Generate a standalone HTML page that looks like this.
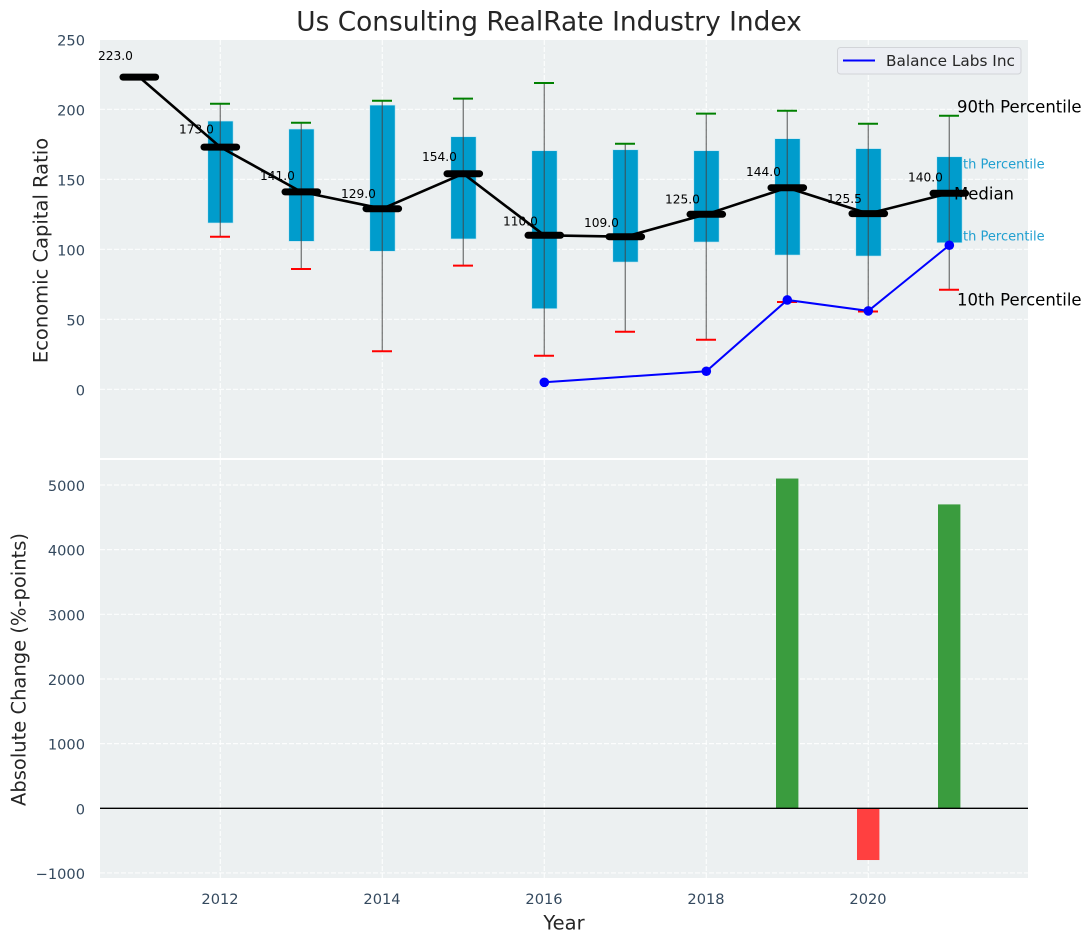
<!DOCTYPE html>
<html lang="en">
<head>
<meta charset="utf-8">
<title>Us Consulting RealRate Industry Index</title>
<style>
html,body{margin:0;padding:0;background:#fff;width:1092px;height:942px;overflow:hidden}
svg{display:block}
text{font-family:"DejaVu Sans","Liberation Sans",sans-serif}
</style>
</head>
<body>
<svg id="chart" xmlns="http://www.w3.org/2000/svg" width="1092" height="942" viewBox="0 0 1092 942"></svg>
<script>
const years = [2011,2012,2013,2014,2015,2016,2017,2018,2019,2020,2021];
const medians = [223,173,141,129,154,110,109,125,144,125.5,140];
const medianLabels = ['223.0','173.0','141.0','129.0','154.0','110.0','109.0','125.0','144.0','125.5','140.0'];
const p90 = [null,204,190.4,206.1,207.6,218.8,175.4,196.9,199,189.7,195.4];
const p75 = [null,191.6,185.9,203,180.4,170.4,171.1,170.4,179,171.9,166.1];
const p25 = [null,118.8,105.7,98.6,107.4,57.6,90.9,105.2,95.9,95.2,104.7];
const p10 = [null,109,85.9,27.2,88.3,24,41.1,35.4,62.4,55.6,71.1];
const companyYears = [2016,2018,2019,2020,2021];
const companyValues = [5,12.9,63.8,56,102.9];
const changeYears = [2019,2020,2021];
const changeValues = [5100,-800,4700];
const xTicks = [2012,2014,2016,2018,2020];
const topTicks = [0,50,100,150,200,250];
const bottomTicks = [-1000,0,1000,2000,3000,4000,5000];

const svg = document.getElementById('chart');
const NS = 'http://www.w3.org/2000/svg';
const xS = y => 220.3 + (y - 2012) * 81;
const yTop = v => 389.3 - v * 1.4;
const yBot = v => 808.3 - v * 0.06466;
const P = {l:100, r:1028, tt:40, tb:458, bt:460, bb:878};

function mk(tag, attrs, txt){
  const e = document.createElementNS(NS, tag);
  for (const k in attrs) e.setAttribute(k, attrs[k]);
  if (txt !== undefined) e.textContent = txt;
  svg.appendChild(e);
  return e;
}
let el;

el = mk('rect',{x:P.l,y:P.tt,width:P.r-P.l,height:P.tb-P.tt,fill:'#ecf0f1'});


el = mk('rect',{x:P.l,y:P.bt,width:P.r-P.l,height:P.bb-P.bt,fill:'#ecf0f1'});



const gridStyle = {stroke:'#fff','stroke-width':1.2,'stroke-dasharray':'5 2','stroke-opacity':0.85};
xTicks.forEach(t => {
  el = mk('line',{x1:xS(t),x2:xS(t),y1:P.tt,y2:P.tb,...gridStyle});
  
  
  el = mk('line',{x1:xS(t),x2:xS(t),y1:P.bt,y2:P.bb,...gridStyle});
  
  
  el = mk('text',{x:xS(t)-0.3,y:899.5,'text-anchor':'middle','dominant-baseline':'central','font-size':14.6,fill:'#34495e'},String(t));
  
  
});
topTicks.forEach(t => {
  el = mk('line',{x1:P.l,x2:P.r,y1:yTop(t),y2:yTop(t),...gridStyle});
  
  
  el = mk('text',{x:85,y:yTop(t)+1.5,'text-anchor':'end','dominant-baseline':'central','font-size':14.6,fill:'#34495e'},String(t));
  
  
});
bottomTicks.forEach(t => {
  el = mk('line',{x1:P.l,x2:P.r,y1:yBot(t),y2:yBot(t),...gridStyle});
  
  
  el = mk('text',{x:85,y:yBot(t)+1.5,'text-anchor':'end','dominant-baseline':'central','font-size':14.6,fill:'#34495e'},t < 0 ? '\u2212' + Math.abs(t) : String(t));
  
  
});

/* percentile annotations sit below the boxes */
const last = years.length - 1;
el = mk('text',{x:946.5,y:yTop(p75[last])+8.3,'dominant-baseline':'central','font-size':13,fill:'#1f9fd0'},'75th Percentile');


el = mk('text',{x:946.5,y:yTop(p25[last])-5.7,'dominant-baseline':'central','font-size':13,fill:'#1f9fd0'},'25th Percentile');



/* boxes */
years.forEach((y,i) => {
  if (p75[i] === null) return;
  el = mk('rect',{x:xS(y)-12.5,width:25.3,y:yTop(p75[i]),height:yTop(p25[i])-yTop(p75[i]),fill:'#009ccc',stroke:'#bfe6f2','stroke-width':0.6});
  
  
});
/* whiskers */
years.forEach((y,i) => {
  if (p90[i] === null) return;
  el = mk('line',{x1:xS(y),x2:xS(y),y1:yTop(p90[i]),y2:yTop(p10[i]),stroke:'#444','stroke-opacity':0.65,'stroke-width':1.4});
  
  
  el = mk('line',{x1:xS(y)-10.3,x2:xS(y)+9.7,y1:yTop(p90[i]),y2:yTop(p90[i]),stroke:'#008000','stroke-width':2});
  
  
  el = mk('line',{x1:xS(y)-10.3,x2:xS(y)+9.7,y1:yTop(p10[i]),y2:yTop(p10[i]),stroke:'#ff0000','stroke-width':2});
  
  
});

/* median line */
el = mk('polyline',{points:years.map((y,i)=>xS(y)+','+yTop(medians[i])).join(' '),fill:'none',stroke:'#000','stroke-width':2.6,'stroke-linejoin':'round'});



/* company line */
el = mk('polyline',{points:companyYears.map((y,i)=>xS(y)+','+yTop(companyValues[i])).join(' '),fill:'none',stroke:'#0000ff','stroke-width':2});


companyYears.forEach((y,i) => {
  el = mk('circle',{cx:xS(y),cy:yTop(companyValues[i]),r:4.8,fill:'#0000ff'});
  
  
});

/* median caps and value labels */
years.forEach((y,i) => {
  el = mk('line',{x1:xS(y)-16.3,x2:xS(y)+16.3,y1:yTop(medians[i]),y2:yTop(medians[i]),stroke:'#000','stroke-width':7,'stroke-linecap':'round'});
  
  
  el = mk('text',{x:xS(y)-41.3,y:yTop(medians[i])-(6.3+0.0667*medians[i]),'dominant-baseline':'central','font-size':12.2,fill:'#000'},medianLabels[i]);
  
  
});

/* remaining annotations */
el = mk('text',{x:957,y:yTop(p90[last])-8.7,'dominant-baseline':'central','font-size':16.5,fill:'#000'},'90th Percentile');


el = mk('text',{x:954,y:yTop(medians[last])+0.7,'dominant-baseline':'central','font-size':16.5,fill:'#000'},'Median');


el = mk('text',{x:957,y:yTop(p10[last])+10.3,'dominant-baseline':'central','font-size':16.5,fill:'#000'},'10th Percentile');



/* change bars */
changeYears.forEach((y,i) => {
  const v = changeValues[i];
  const top = Math.min(yBot(v), yBot(0));
  el = mk('rect',{x:xS(y)-11.3,width:22.4,y:top,height:Math.abs(yBot(v)-yBot(0)),fill:v >= 0 ? '#3a9c3e' : '#ff4040'});
  
  
});
el = mk('line',{x1:P.l,x2:P.r,y1:yBot(0),y2:yBot(0),stroke:'#000','stroke-width':1.3});



/* legend */
el = mk('rect',{x:837.5,y:47.5,width:183.5,height:26.5,rx:3,fill:'#eceef3',stroke:'#d2d4d8','stroke-width':1});


el = mk('line',{x1:843,x2:875,y1:60.5,y2:60.5,stroke:'#0000ff','stroke-width':2});


el = mk('text',{x:886,y:61,'dominant-baseline':'central','font-size':15.3,fill:'#262626'},'Balance Labs Inc');



/* titles */
el = mk('text',{x:549,y:22,'text-anchor':'middle','dominant-baseline':'central','font-size':26.4,fill:'#262626'},'Us Consulting RealRate Industry Index');


el = mk('text',{x:41,y:250.5,'text-anchor':'middle','dominant-baseline':'central','font-size':19.5,fill:'#262626',transform:'rotate(-90 41 250.5)'},'Economic Capital Ratio');


el = mk('text',{x:19,y:669.5,'text-anchor':'middle','dominant-baseline':'central','font-size':19.5,fill:'#262626',transform:'rotate(-90 19 669.5)'},'Absolute Change (%-points)');


el = mk('text',{x:564,y:923,'text-anchor':'middle','dominant-baseline':'central','font-size':19.5,fill:'#262626'},'Year');


</script>
</body>
</html>
